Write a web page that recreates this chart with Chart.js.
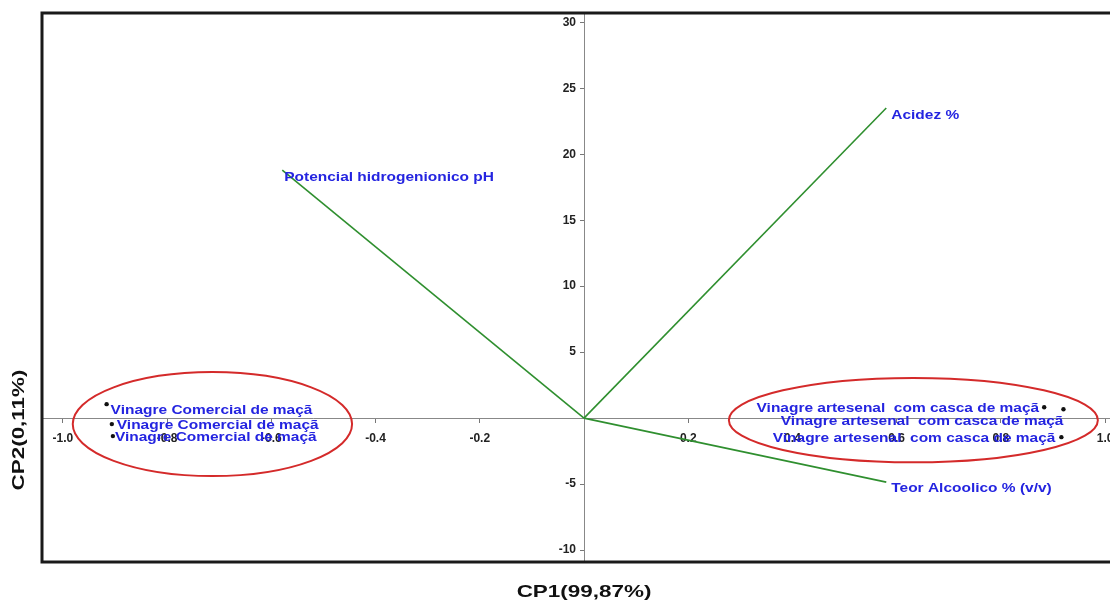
<!DOCTYPE html>
<html>
<head>
<meta charset="utf-8">
<script src="https://cdn.jsdelivr.net/npm/chart.js@4/dist/chart.umd.min.js"></script>
<style>
html, body { margin: 0; padding: 0; background: #fff; overflow: hidden; }
#wrap { width: 1130px; height: 603px; }
</style>
</head>
<body>
<div id="wrap"><canvas id="graphCanvas" width="1130" height="603"></canvas></div>
<script>
// samples (scores)
const sampleNames = [
    'Vinagre Comercial de maçã',
    'Vinagre Comercial de maçã',
    'Vinagre Comercial de maçã',
    'Vinagre artesenal  com casca de maçã',
    'Vinagre artesenal  com casca de maçã',
    'Vinagre artesenal  com casca de maçã'
];
const sampleX = [-0.916, -0.906, -0.904, 0.883, 0.920, 0.916];
const sampleY = [1.06, -0.45, -1.36, 0.83, 0.68, -1.44];

// variables (loadings)
const varNames = ['Potencial hidrogenionico pH', 'Acidez %', 'Teor Alcoolico % (v/v)'];
const varX = [-0.579, 0.580, 0.580];
const varY = [18.8, 23.5, -4.85];

// group ellipses
const groupCx = [-0.713, 0.632];
const groupCy = [-0.45, -0.15];
const groupRx = [0.268, 0.354];
const groupRy = [3.94, 3.2];

const xTicks = [-1.0, -0.8, -0.6, -0.4, -0.2, 0.2, 0.4, 0.6, 0.8, 1.0];
const yTicks = [-10, -5, 5, 10, 15, 20, 25, 30];

// label placement in pixels relative to its mark
const sampleLabelPos = [
    {dx: 4, dy: 6, align: 'left'},
    {dx: 5, dy: 1, align: 'left'},
    {dx: 2, dy: 1, align: 'left'},
    {dx: -5, dy: 1, align: 'right'},
    {dx: 0, dy: 12, align: 'right'},
    {dx: -6, dy: 1, align: 'right'}
];
const varLabelPos = [
    {dx: 2, dy: 7},
    {dx: 5, dy: 7},
    {dx: 5, dy: 6}
];

const labelFont = 'bold 13px "Liberation Sans", Arial, sans-serif';
const labelColor = '#2424e0';

// the original picture is stretched sideways
function wideText(ctx, txt, x, y, align, sx) {
    ctx.save();
    ctx.translate(x, y);
    ctx.scale(sx, 1);
    ctx.textAlign = align;
    ctx.fillText(txt, 0, 0);
    ctx.restore();
}

const biplotPlugin = {
    id: 'biplot',
    afterDatasetsDraw(chart) {
        const ctx = chart.ctx;
        const xs = chart.scales.x, ys = chart.scales.y;
        ctx.save();

        // y tick labels (left of the centred axis)
        ctx.font = 'bold 12px "Liberation Sans", Arial, sans-serif';
        ctx.fillStyle = '#222';
        ctx.textAlign = 'right';
        ctx.textBaseline = 'middle';
        const x0 = xs.getPixelForValue(0);
        yTicks.forEach(v => ctx.fillText(String(v), x0 - 8, ys.getPixelForValue(v)));

        // ellipses
        ctx.strokeStyle = '#d42a2a';
        ctx.lineWidth = 2;
        for (let i = 0; i < groupCx.length; i++) {
            const cx = xs.getPixelForValue(groupCx[i]);
            const cy = ys.getPixelForValue(groupCy[i]);
            const rx = Math.abs(xs.getPixelForValue(groupCx[i] + groupRx[i]) - cx);
            const ry = Math.abs(ys.getPixelForValue(groupCy[i] + groupRy[i]) - cy);
            ctx.beginPath();
            ctx.ellipse(cx, cy, rx, ry, 0, 0, Math.PI * 2);
            ctx.stroke();
        }

        // labels
        ctx.font = labelFont;
        ctx.fillStyle = labelColor;
        for (let i = 0; i < sampleNames.length; i++) {
            const p = sampleLabelPos[i];
            wideText(ctx, sampleNames[i],
                xs.getPixelForValue(sampleX[i]) + p.dx,
                ys.getPixelForValue(sampleY[i]) + p.dy, p.align, 1.19);
        }
        for (let i = 0; i < varNames.length; i++) {
            const p = varLabelPos[i];
            wideText(ctx, varNames[i],
                xs.getPixelForValue(varX[i]) + p.dx,
                ys.getPixelForValue(varY[i]) + p.dy, 'left', 1.19);
        }

        // frame
        const a = chart.chartArea;
        ctx.strokeStyle = '#1a1a1a';
        ctx.lineWidth = 3;
        ctx.strokeRect(a.left, a.top, a.right - a.left, a.bottom - a.top);

        // axis titles
        ctx.fillStyle = '#111';
        ctx.font = 'bold 17px "Liberation Sans", Arial, sans-serif';
        wideText(ctx, 'CP1(99,87%)', x0, 592, 'center', 1.32);
        ctx.translate(19, 430);
        ctx.rotate(-Math.PI / 2);
        wideText(ctx, 'CP2(0,11%)', 0, 0, 'center', 1.32);
        ctx.restore();
    }
};

let datasets = [];
for (let i = 0; i < varNames.length; i++) {
    datasets.push({
        label: varNames[i],
        data: [{x: 0, y: 0}, {x: varX[i], y: varY[i]}],
        showLine: true,
        borderColor: '#2f8f2f',
        borderWidth: 1.6,
        pointRadius: 0
    });
}
datasets.push({
    label: 'amostras',
    data: sampleX.map((v, i) => ({x: v, y: sampleY[i]})),
    pointRadius: 2.2,
    backgroundColor: '#111',
    borderColor: '#111',
    borderWidth: 0
});

const tickFont = {family: '"Liberation Sans", Arial, sans-serif', size: 12, weight: 'bold'};

new Chart(document.getElementById('graphCanvas'), {
    type: 'scatter',
    data: {datasets: datasets},
    options: {
        responsive: false,
        animation: false,
        layout: {padding: {left: 42, right: 2, top: 13, bottom: 41}},
        plugins: {legend: {display: false}, tooltip: {enabled: false}},
        scales: {
            x: {
                type: 'linear',
                min: -1.04,
                max: 1.04,
                position: {y: 0},
                afterBuildTicks: axis => { axis.ticks = xTicks.map(v => ({value: v})); },
                grid: {drawOnChartArea: false, color: '#777', tickLength: 4},
                border: {color: '#888', width: 1},
                ticks: {
                    font: tickFont,
                    color: '#222',
                    padding: 9,
                    maxRotation: 0,
                    autoSkip: false,
                    callback: v => v.toFixed(1)
                }
            },
            y: {
                type: 'linear',
                min: -10.9,
                max: 30.7,
                position: {x: 0},
                afterBuildTicks: axis => { axis.ticks = yTicks.map(v => ({value: v})); },
                grid: {drawOnChartArea: false, color: '#777', tickLength: 4},
                border: {color: '#888', width: 1},
                ticks: {display: false}
            }
        }
    },
    plugins: [biplotPlugin]
});
</script>
</body>
</html>
